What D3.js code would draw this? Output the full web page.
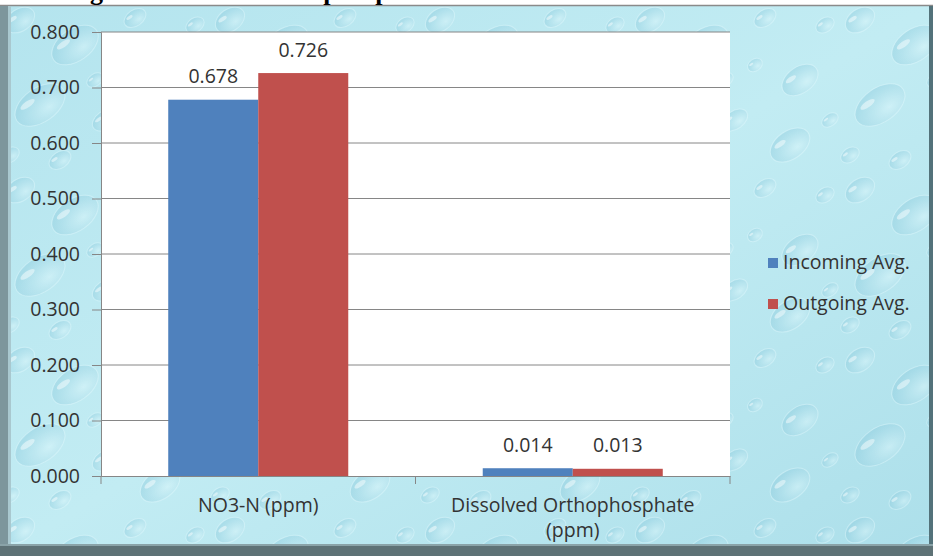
<!DOCTYPE html>
<html><head><meta charset="utf-8">
<script src="https://cdn.jsdelivr.net/npm/d3@7"></script>
<style>html,body{margin:0;padding:0;background:#fff;overflow:hidden}</style>
</head><body>
<svg id="c" width="933" height="556"></svg>
<script>
const categories = [["NO3-N (ppm)"], ["Dissolved Orthophosphate", "(ppm)"]];
const categoryKeys = ["NO3-N (ppm)", "Dissolved Orthophosphate (ppm)"];
const seriesNames = ["Incoming Avg.", "Outgoing Avg."];
const incoming = [0.678, 0.014];
const outgoing = [0.726, 0.013];
const yTicks = [0, 0.1, 0.2, 0.3, 0.4, 0.5, 0.6, 0.7, 0.8];
const titleText = "Average Nitrate and Orthophosphate Levels";
const colors = ["#4f81bd", "#c0504d"];

const W = 933, H = 556;
const plot = {l: 101, r: 730, t: 32, b: 476};
const svg = d3.select("#c");
const defs = svg.append("defs");
const font = "'Open Sans', sans-serif";
const fs = 19.5;

// background texture
const bg = defs.append("linearGradient").attr("id","bg").attr("x1",0).attr("y1",0).attr("x2",1).attr("y2",1);
bg.append("stop").attr("offset",0).attr("stop-color","#b4e4ee");
bg.append("stop").attr("offset",0.5).attr("stop-color","#c2ecf3");
bg.append("stop").attr("offset",1).attr("stop-color","#acdfea");
const drop = defs.append("radialGradient").attr("id","drop").attr("cx",0.62).attr("cy",0.7).attr("r",0.65);
drop.append("stop").attr("offset",0).attr("stop-color","#dff8fc").attr("stop-opacity",0.6);
drop.append("stop").attr("offset",0.7).attr("stop-color","#a6d9e7").attr("stop-opacity",0.55);
drop.append("stop").attr("offset",1).attr("stop-color","#8ccbdd").attr("stop-opacity",0.5);
const pat = defs.append("pattern").attr("id","drops").attr("patternUnits","userSpaceOnUse").attr("width",210).attr("height",170);
const dropsPos = [[20,20,16,11],[75,45,26,16],[135,18,12,8],[170,80,20,13],[40,105,28,17],[105,120,14,9],[160,145,22,14],[10,155,10,7],[95,80,9,6],[125,65,8,6],[60,160,12,8],[195,25,10,7],[200,120,9,6]];
dropsPos.forEach(d => {
  const g = pat.append("g").attr("transform",`translate(${d[0]},${d[1]}) rotate(-35)`);
  g.append("ellipse").attr("rx",d[2]).attr("ry",d[3]).attr("fill","url(#drop)").attr("stroke","#e8fbff").attr("stroke-opacity",0.5).attr("stroke-width",1);
  g.append("ellipse").attr("cx",-d[2]*0.35).attr("cy",-d[3]*0.45).attr("rx",d[2]*0.3).attr("ry",d[3]*0.18).attr("fill","#ffffff").attr("opacity",0.55);
});

svg.append("rect").attr("width",W).attr("height",H).attr("fill","#fff");
svg.append("rect").attr("x",0).attr("y",6).attr("width",W).attr("height",H-6).attr("fill","url(#bg)");
svg.append("rect").attr("x",0).attr("y",6).attr("width",W).attr("height",H-6).attr("fill","url(#drops)").attr("opacity",0.8);
// frame
svg.append("line").attr("x1",0).attr("x2",W).attr("y1",5.5).attr("y2",5.5).attr("stroke","#8a8a8a").attr("stroke-width",1.5);
svg.append("rect").attr("x",0).attr("y",6).attr("width",8).attr("height",H-6).attr("fill","#7d969c");
svg.append("rect").attr("x",8).attr("y",6).attr("width",3).attr("height",H-6).attr("fill","#a9c8cf");
svg.append("rect").attr("x",W-4).attr("y",6).attr("width",4).attr("height",H-6).attr("fill","#53727a");
svg.append("rect").attr("x",0).attr("y",546).attr("width",W).attr("height",10).attr("fill","#5e7276");
svg.append("rect").attr("x",0).attr("y",544).attr("width",W).attr("height",2).attr("fill","#8aa3a8");

// title (cropped at the top edge, as in the reference)
svg.append("text").attr("x",24).attr("y",-0.5).attr("font-family","'Liberation Serif', serif").attr("font-weight","bold")
  .attr("font-size",26).attr("fill","#000").text(titleText);

// plot area
svg.append("rect").attr("x",plot.l).attr("y",plot.t).attr("width",plot.r-plot.l).attr("height",plot.b-plot.t).attr("fill","#fff");

const y = d3.scaleLinear().domain([0,0.8]).range([plot.b, plot.t]);
const x0 = d3.scaleBand().domain(categoryKeys).range([plot.l, plot.r]).paddingInner(0).paddingOuter(0);
const x1 = d3.scaleBand().domain(seriesNames).range([0, x0.bandwidth()]).paddingInner(0).paddingOuter(0.747);

// gridlines + y axis
const yAxis = d3.axisLeft(y).tickValues(yTicks).tickFormat(d3.format(".3f")).tickSize(9).tickPadding(12);
const ga = svg.append("g").attr("transform",`translate(${plot.l},0)`).call(yAxis);
ga.select(".domain").attr("stroke","#868686");
ga.selectAll(".tick line").attr("stroke","#868686");
ga.selectAll(".tick text").attr("font-family",font).attr("font-size",fs).attr("fill","#333");
svg.append("g").selectAll("line").data(yTicks.filter(d=>d>0)).join("line")
  .attr("x1",plot.l).attr("x2",plot.r).attr("y1",d=>y(d)).attr("y2",d=>y(d)).attr("stroke","#868686").attr("stroke-width",1);

// bars
const rows = categoryKeys.map((c,i)=>({cat:c, vals:[incoming[i], outgoing[i]]}));
const gg = svg.append("g").selectAll("g").data(rows).join("g").attr("transform",d=>`translate(${x0(d.cat)},0)`);
gg.selectAll("rect").data(d=>d.vals.map((v,j)=>({s:seriesNames[j], v, j}))).join("rect")
  .attr("x",d=>x1(d.s)).attr("width",x1.bandwidth()).attr("y",d=>y(d.v)).attr("height",d=>y(0)-y(d.v)).attr("fill",d=>colors[d.j]);
gg.selectAll("text").data(d=>d.vals.map((v,j)=>({s:seriesNames[j], v, j}))).join("text")
  .attr("x",d=>x1(d.s)+x1.bandwidth()/2).attr("y",d=>y(d.v)-16.5).attr("text-anchor","middle")
  .attr("font-family",font).attr("font-size",fs).attr("fill","#333").text(d=>d3.format(".3f")(d.v));

// x axis
const xAxis = d3.axisBottom(x0).tickSize(0).tickFormat("");
const gx = svg.append("g").attr("transform",`translate(0,${plot.b})`).call(xAxis);
gx.select(".domain").attr("stroke","#868686");
svg.append("g").selectAll("line").data([plot.l, x0(categoryKeys[1]), plot.r]).join("line")
  .attr("x1",d=>d).attr("x2",d=>d).attr("y1",plot.b).attr("y2",plot.b+8).attr("stroke","#868686");
const cl = svg.append("g").selectAll("text").data(categoryKeys.map((k,i)=>({k, lines:categories[i]}))).join("text")
  .attr("x",d=>x0(d.k)+x0.bandwidth()/2).attr("y",512).attr("text-anchor","middle")
  .attr("font-family",font).attr("font-size",fs).attr("fill","#333");
cl.selectAll("tspan").data(d=>d.lines).join("tspan").attr("x",function(){return this.parentNode.getAttribute("x");})
  .attr("dy",(d,i)=>i?25:0).text(d=>d);

// legend
const lg = svg.append("g").selectAll("g").data(seriesNames).join("g").attr("transform",(d,i)=>`translate(768,${258+i*41})`);
lg.append("rect").attr("width",10).attr("height",10).attr("fill",(d,i)=>colors[i]);
lg.append("text").attr("x",15).attr("y",11).attr("font-family",font).attr("font-size",fs).attr("fill","#333").text(d=>d);
</script>
</body></html>
